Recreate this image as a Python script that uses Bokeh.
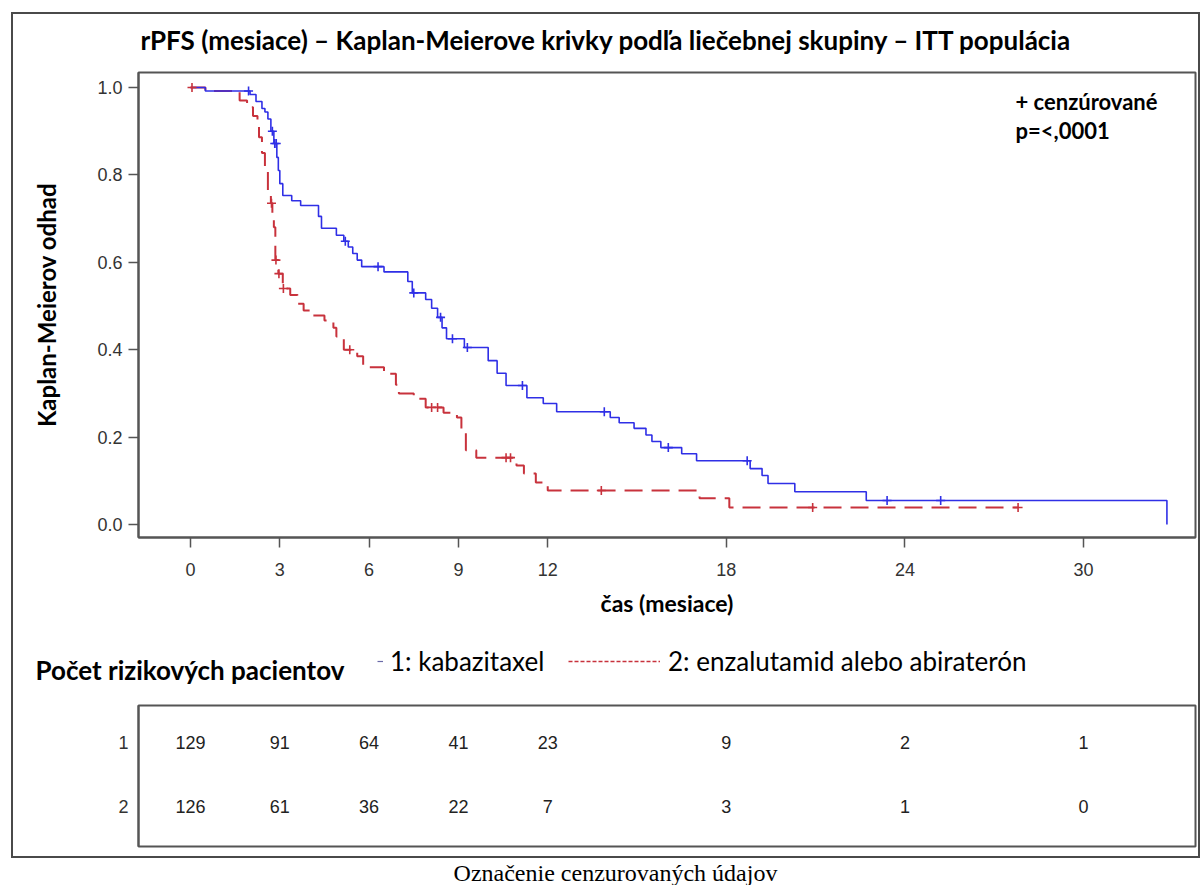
import numpy as np
from bokeh.plotting import figure
from bokeh.models import (Range1d, Label, Legend, LegendItem, FixedTicker,
                          NumeralTickFormatter, ColumnDataSource)
from bokeh.layouts import column, row
from bokeh.embed import file_html
from bokeh.resources import INLINE
from bokeh.core.properties import value

# ---------------- data ----------------
title_text = "rPFS (mesiace) – Kaplan-Meierove krivky podľa liečebnej skupiny – ITT populácia"
x_label = "čas (mesiace)"
y_label = "Kaplan-Meierov odhad"
group1_name = "1: kabazitaxel"
group2_name = "2: enzalutamid alebo abiraterón"
risk_title = "Počet rizikových pacientov"
censor_note = "+ cenzúrované"
p_note = "p=<,0001"
caption = "Označenie cenzurovaných údajov"

x_ticks = [0, 3, 6, 9, 12, 18, 24, 30]
y_ticks = [0.0, 0.2, 0.4, 0.6, 0.8, 1.0]

# group 1: kabazitaxel (step times and survival after each step)
t1 = [0, 0.5, 2.0, 2.2, 2.4, 2.5, 2.6, 2.7, 2.8, 2.9, 2.95, 3.0, 3.1, 3.4, 3.7,
      4.3, 4.4, 4.9, 5.15, 5.3, 5.45, 5.6, 5.75, 6.5, 7.3, 7.45, 7.9, 8.1, 8.3,
      8.45, 8.6, 9.2, 10.0, 10.3, 10.6, 11.3, 11.85, 12.3, 14.1, 14.4, 14.9,
      15.3, 15.5, 15.8, 16.5, 17.0, 18.8, 19.2, 19.4, 20.3, 22.7, 32.8]
s1 = [1.0, 0.992, 0.984, 0.968, 0.952, 0.944, 0.928, 0.90, 0.872, 0.84, 0.81,
      0.78, 0.753, 0.741, 0.73, 0.705, 0.678, 0.662, 0.648, 0.635, 0.62, 0.605,
      0.59, 0.578, 0.556, 0.53, 0.515, 0.495, 0.474, 0.45, 0.425, 0.405, 0.375,
      0.346, 0.318, 0.29, 0.277, 0.258, 0.245, 0.233, 0.22, 0.205, 0.19, 0.176,
      0.162, 0.146, 0.128, 0.112, 0.094, 0.075, 0.055, 0.0]
c1 = [1.95, 2.75, 2.83, 2.88, 5.2, 6.3, 7.5, 8.4, 8.8, 9.3, 11.15, 13.9,
      16.05, 18.7, 23.4, 25.2]

# group 2: enzalutamid alebo abiraterón
t2 = [0, 0.5, 1.65, 1.9, 2.1, 2.25, 2.3, 2.4, 2.5, 2.6, 2.7, 2.75, 2.8, 2.85,
      2.95, 3.1, 3.35, 3.6, 3.8, 4.1, 4.5, 4.8, 4.9, 5.15, 5.6, 5.8, 6.5, 6.9,
      7.0, 7.5, 7.9, 8.5, 8.95, 9.1, 9.25, 9.6, 10.95, 11.2, 11.6, 12.0, 17.1,
      18.1, 27.8]
s2 = [1.0, 0.992, 0.97, 0.955, 0.935, 0.918, 0.886, 0.85, 0.81, 0.764, 0.735,
      0.70, 0.68, 0.605, 0.574, 0.54, 0.525, 0.505, 0.49, 0.478, 0.467, 0.45,
      0.43, 0.40, 0.385, 0.36, 0.345, 0.32, 0.30, 0.288, 0.268, 0.256, 0.245,
      0.215, 0.17, 0.153, 0.135, 0.117, 0.096, 0.078, 0.06, 0.039, 0.039]
c2 = [0.05, 2.72, 2.87, 2.97, 3.12, 5.35, 8.1, 8.3, 10.6, 10.75, 13.8, 20.9, 27.8]

risk_times = [0, 3, 6, 9, 12, 18, 24, 30]
risk1 = [129, 91, 64, 41, 23, 9, 2, 1]
risk2 = [126, 61, 36, 22, 7, 3, 1, 0]
row_ids = [1, 2]

# ---------------- style ----------------
BLUE = "#2f2fe6"
RED = "#c8323c"
FRAME = "#555555"
TICK = "#333333"
SANS = "Liberation Sans"
BOLD = "Lato"


def step_at(ts, ss, tc):
    idx = np.searchsorted(np.array(ts), np.array(tc), side="right") - 1
    return [ss[i] for i in idx]


def blank(width, height):
    f = figure(width=width, height=height, x_range=Range1d(0, 1),
               y_range=Range1d(0, 1), output_backend="svg",
               toolbar_location=None, min_border=0, min_border_left=0,
               min_border_right=0, min_border_top=0, min_border_bottom=0,
               border_fill_color="white")
    f.axis.visible = False
    f.grid.visible = False
    f.outline_line_color = None
    return f


W = 1185
ML, MR = 125, 3
xr = Range1d(-1.747, 33.76)

# ---------------- title row ----------------
pT = blank(W, 54)
pT.add_layout(Label(x=127, y=29, x_units="screen", y_units="screen",
                    text=title_text, text_font=BOLD, text_font_style="bold",
                    text_font_size="26px", text_baseline="middle",
                    text_color="black"))

# ---------------- KM plot ----------------
pA = figure(width=W, height=572, x_range=xr, y_range=Range1d(-0.0297, 1.0343),
            output_backend="svg", toolbar_location=None,
            min_border_left=ML, min_border_right=MR, min_border_top=4,
            min_border_bottom=103, background_fill_color="white",
            border_fill_color="white")
pA.grid.visible = False
pA.outline_line_color = FRAME
pA.outline_line_width = 2

for ax in (pA.xaxis[0], pA.yaxis[0]):
    ax.axis_line_color = FRAME
    ax.axis_line_width = 2
    ax.major_tick_line_color = FRAME
    ax.major_tick_line_width = 1.5
    ax.major_tick_out = 10
    ax.major_tick_in = 0
    ax.minor_tick_line_color = None
    ax.major_label_text_font = SANS
    ax.major_label_text_font_size = "18px"
    ax.major_label_text_color = TICK
    ax.axis_label_text_font = BOLD
    ax.axis_label_text_font_style = "bold"
    ax.axis_label_text_color = "black"

pA.xaxis.ticker = FixedTicker(ticks=x_ticks)
pA.xaxis.major_label_standoff = 15
pA.xaxis.axis_label = x_label
pA.xaxis.axis_label_text_font_size = "23px"
pA.xaxis.axis_label_standoff = 10
pA.yaxis.ticker = FixedTicker(ticks=y_ticks)
pA.yaxis.formatter = NumeralTickFormatter(format="0.0")
pA.yaxis.major_label_standoff = 6
pA.yaxis.axis_label = y_label
pA.yaxis.axis_label_text_font_size = "24px"
pA.yaxis.axis_label_standoff = 33

# curves
pA.step(t2, s2, mode="after", line_color=RED, line_width=2, line_dash="18 9")
pA.step(t1, s1, mode="after", line_color=BLUE, line_width=1.6)
pA.scatter(c2, step_at(t2, s2, c2), marker="cross", size=9, line_color=RED, line_width=1.6)
pA.scatter(c1, step_at(t1, s1, c1), marker="cross", size=9, line_color=BLUE, line_width=1.6)

pA.add_layout(Label(x=877, y=436, x_units="screen", y_units="screen",
                    text=censor_note, text_font=BOLD, text_font_style="bold",
                    text_font_size="22px", text_baseline="middle",
                    text_color="black"))
pA.add_layout(Label(x=877, y=407, x_units="screen", y_units="screen",
                    text=p_note, text_font=BOLD, text_font_style="bold",
                    text_font_size="22px", text_baseline="middle",
                    text_color="black"))

# ---------------- legend row ----------------
pL = blank(W, 50)
r_leg1 = pL.line(x=[np.nan], y=[np.nan], line_color="#6a6aa8", line_width=1.2)
r_leg2 = pL.line(x=[np.nan], y=[np.nan], line_color=RED, line_width=1.5, line_dash="4 2")
leg1 = Legend(items=[LegendItem(label=group1_name, renderers=[r_leg1])],
              location=(364, 13), glyph_width=6, label_standoff=7)
leg2 = Legend(items=[LegendItem(label=group2_name, renderers=[r_leg2])],
              location=(555, 13), glyph_width=92, label_standoff=8)
for lg in (leg1, leg2):
    lg.padding = 0
    lg.margin = 0
    lg.border_line_color = None
    lg.background_fill_alpha = 0
    lg.label_text_font = BOLD
    lg.label_text_font_size = "26px"
    lg.label_text_color = "black"
    lg.orientation = "horizontal"
    pL.add_layout(lg)
pL.add_layout(Label(x=22, y=21, x_units="screen", y_units="screen",
                    text=risk_title, text_font=BOLD, text_font_style="bold",
                    text_font_size="26px", text_baseline="middle",
                    text_color="black"))

# ---------------- at-risk table ----------------
pB = figure(width=W, height=166, x_range=xr, y_range=Range1d(2.625, 0.422),
            output_backend="svg", toolbar_location=None,
            min_border_left=ML, min_border_right=MR, min_border_top=15,
            min_border_bottom=10, border_fill_color="white")
pB.grid.visible = False
pB.xaxis.visible = False
pB.outline_line_color = FRAME
pB.outline_line_width = 2
pB.yaxis.ticker = FixedTicker(ticks=row_ids)
pB.yaxis.major_label_overrides = {1: "1", 2: "2"}
pB.yaxis.axis_line_color = FRAME
pB.yaxis.axis_line_width = 2
pB.yaxis.major_tick_line_color = None
pB.yaxis.minor_tick_line_color = None
pB.yaxis.major_label_text_font = SANS
pB.yaxis.major_label_text_font_size = "18px"
pB.yaxis.major_label_text_color = TICK
pB.yaxis.major_label_standoff = 4

tsrc = ColumnDataSource(dict(
    x=risk_times + risk_times,
    y=[row_ids[0]] * len(risk_times) + [row_ids[1]] * len(risk_times),
    t=[str(v) for v in risk1] + [str(v) for v in risk2]))
pB.text(x="x", y="y", text="t", source=tsrc, text_align="center",
        text_baseline="middle", text_font=value(SANS), text_font_size="18px",
        text_color="#222222")

outer = column(row(pT), pA, row(pL), pB, margin=(12, 0, 0, 11),
               styles={"border": "2px solid #4a4a4a"})

# ---------------- caption ----------------
pC = blank(1200, 27)
pC.add_layout(Label(x=615, y=13, x_units="screen", y_units="screen", text=caption,
                    text_font="Liberation Serif", text_font_size="24px",
                    text_align="center", text_baseline="middle",
                    text_color="black"))

layout = column(outer, pC)
open("out.html", "w").write(file_html(layout, INLINE))
